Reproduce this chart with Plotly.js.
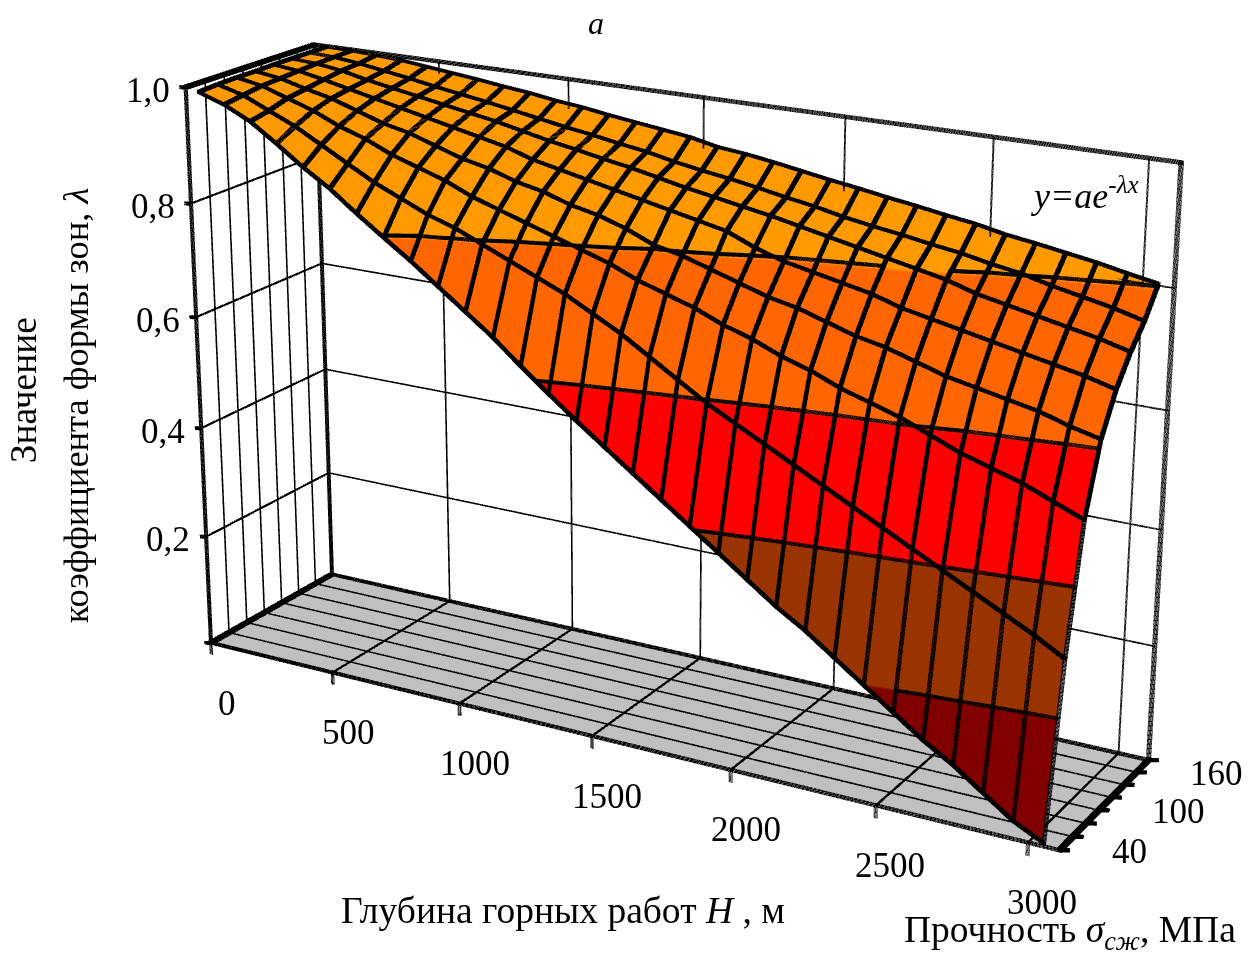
<!DOCTYPE html><html><head><meta charset="utf-8"><script src="https://cdn.plot.ly/plotly-3.0.1.min.js"></script>
<style>html,body{margin:0;padding:0;overflow:hidden;background:#fff;width:1258px;height:955px}#p{position:absolute}</style></head><body>
<div id="p"></div>
<script>
const depth=[0,100,200,300,400,500,600,700,800,900,1000,1100,1200,1300,1400,1500,1600,1700,1800,1900,2000,2100,2200,2300,2400,2500,2600,2700,2800,2900,3000];
const strength=[40,60,80,100,120,140,160,180];
const lambda40=[.995,.98,.958,.927,.894,.865,.83,.797,.765,.73,.695,.66,.62,.582,.545,.51,.475,.44,.405,.37,.335,.30,.27,.235,.20,.165,.13,.10,.065,.03,.005];
const lambda60=[.997,.985,.965,.945,.92,.895,.87,.85,.83,.815,.795,.775,.755,.735,.71,.685,.655,.625,.595,.57,.545,.52,.495,.47,.445,.42,.395,.37,.345,.32,.292];
const lambda80=[.998,.99,.975,.96,.94,.925,.905,.89,.875,.855,.84,.825,.81,.795,.78,.76,.745,.73,.71,.695,.675,.66,.64,.625,.61,.59,.57,.555,.54,.52,.50];
const lambda100=[.998,.992,.98,.97,.955,.94,.93,.915,.90,.89,.875,.865,.85,.84,.825,.805,.795,.78,.765,.75,.74,.725,.71,.70,.685,.67,.66,.65,.64,.625,.613];
const lambda120=[.999,.994,.985,.975,.965,.955,.945,.935,.925,.915,.90,.89,.88,.87,.86,.85,.84,.83,.81,.795,.785,.775,.765,.75,.74,.73,.72,.71,.70,.69,.677];
const lambda140=[.999,.996,.99,.98,.972,.964,.956,.948,.94,.93,.92,.912,.903,.895,.885,.875,.867,.858,.85,.84,.83,.82,.81,.80,.79,.775,.765,.755,.745,.735,.722];
const lambda160=[.999,.997,.992,.985,.978,.97,.963,.956,.948,.94,.932,.925,.917,.91,.90,.892,.885,.877,.868,.86,.85,.842,.835,.827,.82,.81,.802,.79,.78,.77,.757];
const lambda180=[.999,.998,.996,.993,.988,.983,.978,.972,.967,.96,.955,.948,.942,.936,.93,.92,.915,.908,.90,.892,.885,.877,.87,.862,.855,.845,.838,.83,.822,.812,.803];
const zRows=[lambda40,lambda60,lambda80,lambda100,lambda120,lambda140,lambda160,lambda180];
const xTickLabels=['0','500','1000','1500','2000','2500','3000'];
const yTickLabels=['40','100','160'];
const zTickLabels=['0,2','0,4','0,6','0,8','1,0'];
const zTicks=[.2,.4,.6,.8,1];
const levels=[.2,.4,.6,.8];

const F='"Liberation Serif"';
const W=3549.4,H=2694.5,L=-1099.9,T=-975.3;
const el=document.getElementById('p');el.style.left=L+'px';el.style.top=T+'px';
const px=x=>(x-L)/W, py=y=>1-(y-T)/H;
const x0=-50,x1=3050,y0=40,y1=180;
const mx=40,my=6,mz=.025;
const xTicks=xTickLabels.map(v=>+v-50);
const PXH=3.66,PXZ=.00167;
const BIAS=[11.5,-4.04,.0041];
// Thick strokes: WebGL lines are 1 px here, so each polyline is stamped with a small brush.
function stamp(lines,brush){const X=[],Y=[],Z=[];const b=BIAS;
 for(const i of brush)for(const j of brush)for(const l of lines){for(const p of l){X.push(p[0]+i*PXH+b[0]);Y.push(p[1]+b[1]);Z.push(p[2]+j*PXZ+b[2])}X.push(null);Y.push(null);Z.push(null)}
 return {type:'scatter3d',mode:'lines',hoverinfo:'skip',showlegend:false,connectgaps:false,line:{color:'#000',width:1},x:X,y:Y,z:Z}}
const wide=[-1.6,-.8,0,.8,1.6],frameB=[-2,-1.33,-.67,0,.67,1.33,2],thin=[-.6,0,.6];

const surf={type:'surface',x:depth,y:strength,z:zRows,cmin:0,cmax:1,showscale:false,hoverinfo:'skip',
 colorscale:[[0,'#800000'],[.2,'#800000'],[.2,'#993300'],[.4,'#993300'],[.4,'#FF0000'],[.6,'#FF0000'],[.6,'#FF6600'],[.8,'#FF6600'],[.8,'#FF9900'],[1,'#FF9900']],
 lighting:{ambient:1,diffuse:0,specular:0,fresnel:0,roughness:1}};
const floor={type:'surface',x:[x0,x1],y:[y0,y1],z:[[0,0],[0,0]],cmin:-1,cmax:1,showscale:false,hoverinfo:'skip',
 colorscale:[[0,'#C0C0C0'],[1,'#C0C0C0']],lighting:{ambient:1,diffuse:0,specular:0,fresnel:0,roughness:1}};

const mesh=[];
strength.forEach((s,j)=>mesh.push(depth.map((d,i)=>[d,s,zRows[j][i]])));
depth.forEach((d,i)=>mesh.push(strength.map((s,j)=>[d,s,zRows[j][i]])));
function crossTri(a,b,c,lv,out){const pts=[];for(const [p,q] of [[a,b],[b,c],[c,a]]){if((p[2]-lv)*(q[2]-lv)<0){const t=(lv-p[2])/(q[2]-p[2]);pts.push([p[0]+t*(q[0]-p[0]),p[1]+t*(q[1]-p[1]),lv])}}if(pts.length===2)out.push(pts)}
for(const lv of levels)for(let j=0;j<strength.length-1;j++)for(let i=0;i<depth.length-1;i++){
 const A=[depth[i],strength[j],zRows[j][i]],B=[depth[i+1],strength[j],zRows[j][i+1]],C=[depth[i+1],strength[j+1],zRows[j+1][i+1]],D=[depth[i],strength[j+1],zRows[j+1][i]];
 crossTri(A,B,C,lv,mesh);crossTri(A,C,D,lv,mesh)}

const frame=[[[x0,y0,0],[x0,y0,1]],[[x0,y1,0],[x0,y1,1]],[[x1,y1,0],[x1,y1,1]],[[x0,y0,1],[x0,y1,1],[x1,y1,1]],[[x0,y0,0],[x1,y0,0],[x1,y1,0],[x0,y1,0],[x0,y0,0]]];
const grid=[];
xTicks.slice(1).forEach(x=>{grid.push([[x,y0,0],[x,y1,0],[x,y1,1]])});
strength.slice(1,-1).forEach(y=>{grid.push([[x1,y,0],[x0,y,0],[x0,y,1]])});
levels.forEach(z=>{grid.push([[x0,y0,z],[x0,y1,z],[x1,y1,z]])});
const ticks=[];
xTicks.forEach(x=>ticks.push([[x,y0,0],[x,y0,-.02]]));
strength.forEach(y=>ticks.push([[x1,y,0],[x1+29,y+3.1,0]]));
[0,...zTicks].forEach(z=>ticks.push([[x0,y0,z],[x0-30,y0-4.2,z]]));

const tf={family:F,size:35,color:'#000'};
const sa=[];
xTickLabels.forEach((t,i)=>sa.push({x:xTicks[i],y:y0,z:0,text:t,showarrow:false,font:tf,xshift:15,yshift:-61,xanchor:'center',yanchor:'middle'}));
yTickLabels.forEach((t,i)=>sa.push({x:x1,y:+t,z:0,text:t,showarrow:false,font:tf,xshift:i?81:71,yshift:-2,xanchor:'center',yanchor:'middle'}));
zTickLabels.forEach((t,i)=>sa.push({x:x0,y:y0,z:zTicks[i],text:t,showarrow:false,font:tf,xshift:-39,yshift:-3,xanchor:'center',yanchor:'middle'}));

const ann=(x,y,text,size,o)=>Object.assign({xref:'paper',yref:'paper',x:px(x),y:py(y),text,showarrow:false,font:{family:F,size,color:'#000'},xanchor:'center',yanchor:'middle'},o||{});
const annotations=[
 ann(596,23,'<i>а</i>',32),
 ann(24,390,'Значение',37.5,{textangle:-90}),
 ann(76,405,'коэффициента формы зон, <i>λ</i>',36.5,{textangle:-90}),
 ann(563,910,'Глубина горных работ <i>H</i> , м',37.5),
 ann(1238,932,'Прочность <i>σ<sub>сж</sub></i>, МПа',37.5,{xanchor:'right'}),
 ann(1085,193,'<i>y=ae<sup>-λx</sup></i>',36)
];
const hidden=r=>({visible:false,range:r,showgrid:false,zeroline:false,showline:false,showticklabels:false,showbackground:false,showspikes:false,title:{text:''}});
Plotly.newPlot(el,[floor,surf,stamp(mesh,wide),stamp(frame,frameB),stamp(grid,thin),stamp(ticks,wide)],{width:W,height:H,margin:{l:0,r:0,t:0,b:0,pad:0},showlegend:false,paper_bgcolor:'#fff',annotations,
 scene:{domain:{x:[0,1],y:[0,1]},bgcolor:'#fff',aspectmode:'manual',
  aspectratio:{x:(x1-x0+2*mx)/(x1-x0),y:.2291*(y1-y0+2*my)/(y1-y0),z:.6217*(1+2*mz)},
  camera:{eye:{x:1.5448,y:-2.7308,z:1.1028},center:{x:.5719,y:-.9942,z:.4354},up:{x:-.3735,y:.6580,z:1},projection:{type:'perspective'}},
  xaxis:hidden([x0-mx,x1+mx]),yaxis:hidden([y0-my,y1+my]),zaxis:hidden([-mz,1+mz]),
  annotations:sa}},
 {displayModeBar:false,plotGlPixelRatio:1});
</script></body></html>
